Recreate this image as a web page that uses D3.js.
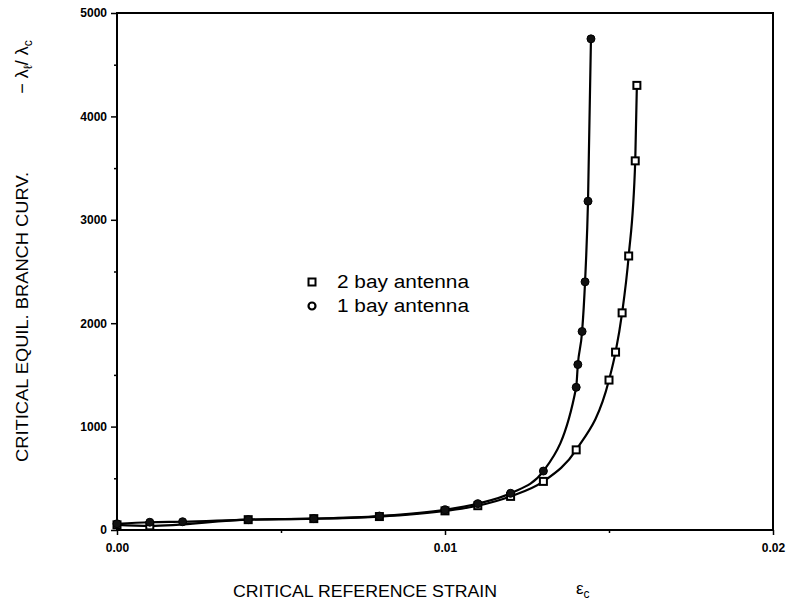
<!DOCTYPE html>
<html>
<head>
<meta charset="utf-8">
<script src="https://cdn.jsdelivr.net/npm/d3@7"></script>
<style>
body { margin: 0; background: #fff; }
svg text { font-family: "Liberation Sans", Arial, sans-serif; fill: #000; }
</style>
</head>
<body>
<div id="chart"></div>
<script>
// Data: reference strain vs. critical branch curvature.
var strain2 = [0.0, 0.001, 0.004, 0.006, 0.008, 0.010, 0.011, 0.012, 0.013, 0.014, 0.0150, 0.0152, 0.0154, 0.0156, 0.0158, 0.01585];
var curv2   = [50, 40, 100, 110, 130, 185, 235, 325, 470, 775, 1450, 1720, 2100, 2650, 3570, 4300];
var strain1 = [0.0, 0.001, 0.002, 0.004, 0.006, 0.008, 0.010, 0.011, 0.012, 0.013, 0.0140, 0.01405, 0.01418, 0.01427, 0.01436, 0.01445];
var curv1   = [60, 75, 80, 100, 110, 135, 195, 255, 355, 570, 1380, 1600, 1920, 2400, 3180, 4750];
var xTicks = [0, 0.01, 0.02];
var yTicks = [0, 1000, 2000, 3000, 4000, 5000];
var legendNames = ["2 bay antenna", "1 bay antenna"];

var width = 791, height = 604;
// plot box edges in pixels (note: "top" is reserved on window, so prefix)
var pLeft = 117, pRight = 773, pTop = 13, pBottom = 530;

var svg = d3.select("#chart").append("svg")
    .attr("width", width)
    .attr("height", height);

var x = d3.scaleLinear().domain([0, 0.02]).range([pLeft, pRight]);
var y = d3.scaleLinear().domain([0, 5000]).range([pBottom, pTop]);

// Frame around the plot.
svg.append("rect")
    .attr("x", pLeft).attr("y", pTop)
    .attr("width", pRight - pLeft).attr("height", pBottom - pTop)
    .attr("fill", "none").attr("stroke", "#000").attr("stroke-width", 2);

// Bottom axis.
svg.append("g")
    .attr("transform", "translate(0," + pBottom + ")")
    .call(d3.axisBottom(x).tickValues(xTicks).tickFormat(d3.format(".2f")).tickSize(5).tickPadding(8));
svg.append("g")
    .attr("transform", "translate(0," + pBottom + ")")
    .call(d3.axisBottom(x).tickValues([0.005, 0.015]).tickFormat("").tickSize(3));

// Left axis.
svg.append("g")
    .attr("transform", "translate(" + pLeft + ",0)")
    .call(d3.axisLeft(y).tickValues(yTicks).tickFormat(d3.format("d")).tickSize(6).tickPadding(4));
svg.append("g")
    .attr("transform", "translate(" + pLeft + ",0)")
    .call(d3.axisLeft(y).tickValues([500, 1500, 2500, 3500, 4500]).tickFormat("").tickSize(3));

svg.selectAll(".domain").remove();
svg.selectAll(".tick line").attr("stroke", "#000").attr("stroke-width", 1.5);
svg.selectAll(".tick text")
    .style("font-size", "12px").style("font-weight", "bold")
    .style("font-family", "'Liberation Sans', Arial, sans-serif")
    .attr("fill", "#000");

// Curves.
var line = d3.line()
    .x(function(d) { return x(d[0]); })
    .y(function(d) { return y(d[1]); })
    .curve(d3.curveMonotoneX);

var pts2 = d3.zip(strain2, curv2);
var pts1 = d3.zip(strain1, curv1);

svg.append("path").datum(pts2)
    .attr("d", line).attr("fill", "none")
    .attr("stroke", "#000").attr("stroke-width", 2.2);
svg.append("path").datum(pts1)
    .attr("d", line).attr("fill", "none")
    .attr("stroke", "#000").attr("stroke-width", 2.2);

// Markers.
svg.selectAll(".sq").data(pts2).enter().append("rect")
    .attr("class", "sq")
    .attr("x", function(d) { return x(d[0]) - 3.5; })
    .attr("y", function(d) { return y(d[1]) - 3.5; })
    .attr("width", 7).attr("height", 7)
    .attr("fill", "#fff").attr("stroke", "#000").attr("stroke-width", 2);

svg.selectAll(".ci").data(pts1).enter().append("circle")
    .attr("class", "ci")
    .attr("cx", function(d) { return x(d[0]); })
    .attr("cy", function(d) { return y(d[1]); })
    .attr("r", 4)
    .attr("fill", "#111").attr("stroke", "#000").attr("stroke-width", 1);

// Legend.
var legend = svg.append("g").attr("transform", "translate(312,282)");
legend.append("rect")
    .attr("x", -3.5).attr("y", -3.5).attr("width", 7).attr("height", 7)
    .attr("fill", "#fff").attr("stroke", "#000").attr("stroke-width", 2);
legend.append("circle")
    .attr("cx", 0).attr("cy", 24).attr("r", 3.5)
    .attr("fill", "#fff").attr("stroke", "#000").attr("stroke-width", 2.2);
legend.selectAll("text").data(legendNames).enter().append("text")
    .attr("x", 25)
    .attr("y", function(d, i) { return i * 24 + 6; })
    .style("font-size", "18px")
    .attr("textLength", 132).attr("lengthAdjust", "spacingAndGlyphs")
    .text(function(d) { return d; });

// Axis titles.
svg.append("text")
    .attr("x", 365).attr("y", 597)
    .attr("text-anchor", "middle")
    .style("font-size", "16px")
    .attr("textLength", 264).attr("lengthAdjust", "spacingAndGlyphs")
    .text("CRITICAL REFERENCE STRAIN");
var eps = svg.append("text")
    .attr("x", 576).attr("y", 594)
    .style("font-size", "17px");
eps.append("tspan").text("\u03b5");
eps.append("tspan").attr("dy", 4).style("font-size", "12px").text("c");

svg.append("text")
    .attr("transform", "translate(28,317) rotate(-90)")
    .attr("text-anchor", "middle")
    .style("font-size", "16px")
    .attr("textLength", 290).attr("lengthAdjust", "spacingAndGlyphs")
    .text("CRITICAL EQUIL. BRANCH CURV.");
var lam = svg.append("text")
    .attr("transform", "translate(28,67) rotate(-90)")
    .attr("text-anchor", "middle")
    .style("font-size", "18px");
lam.append("tspan").text("\u2212 \u03bb");
lam.append("tspan").attr("dy", 4).style("font-size", "12px").text("\u2113");
lam.append("tspan").attr("dy", -4).text("/ \u03bb");
lam.append("tspan").attr("dy", 4).style("font-size", "12px").text("c");
</script>
</body>
</html>
